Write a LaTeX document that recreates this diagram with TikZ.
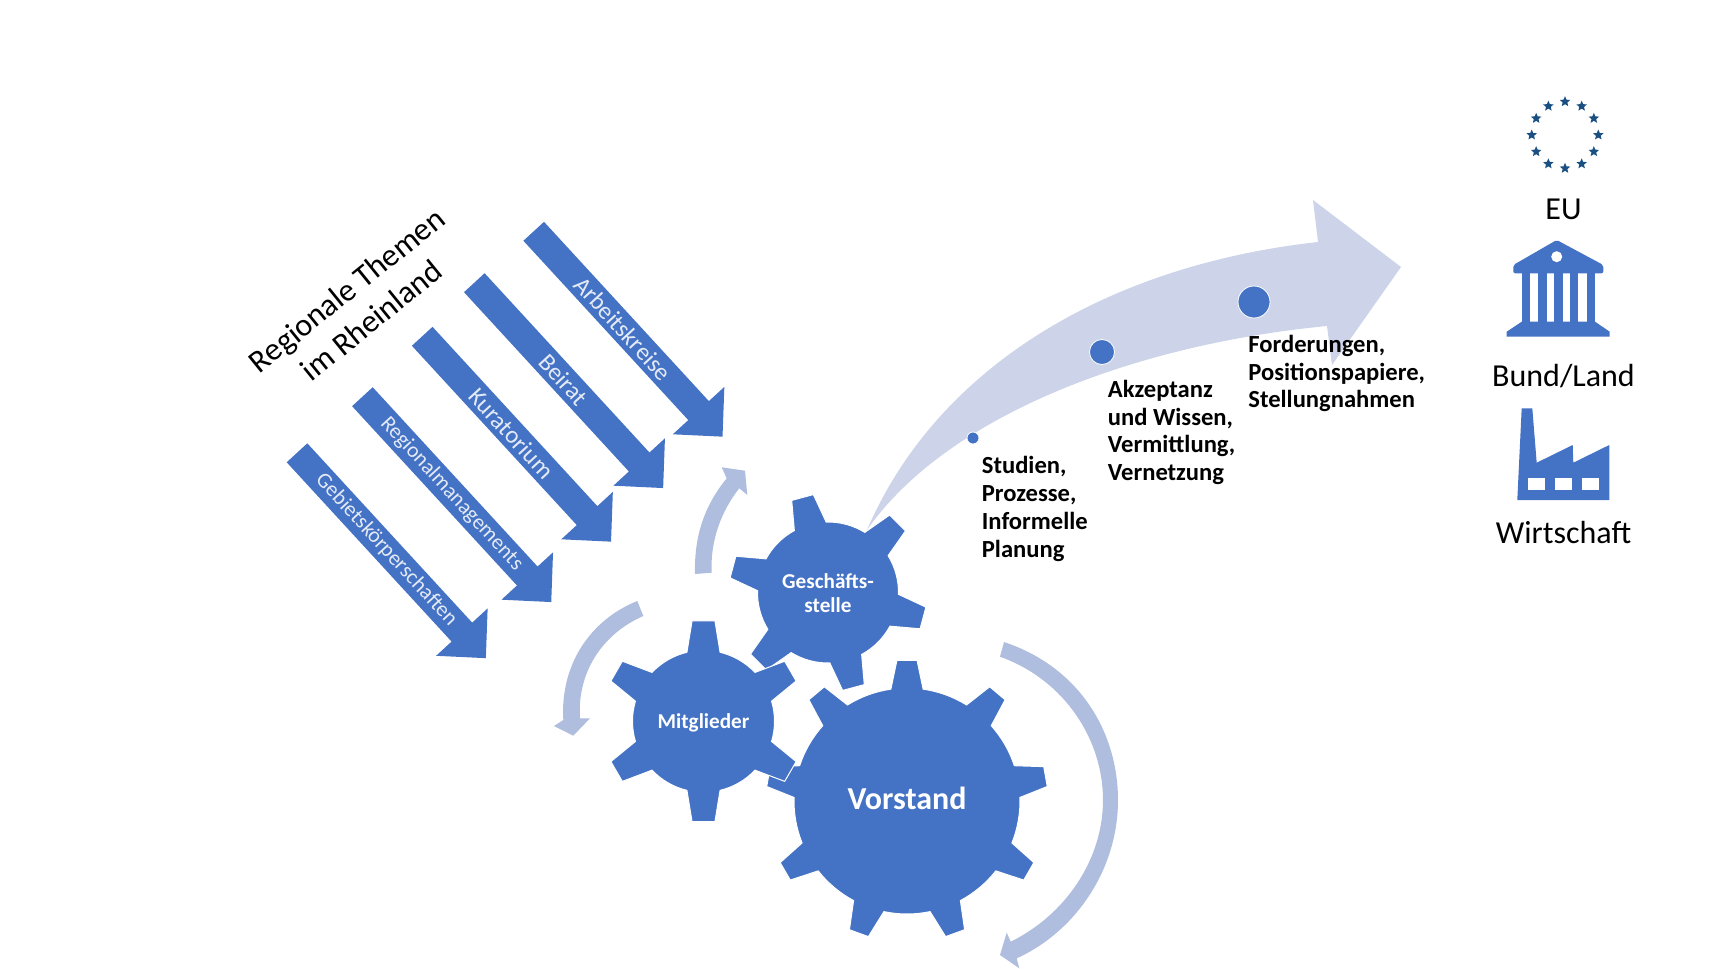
\documentclass[tikz,border=0pt]{standalone}
\usepackage{fontspec}
\setmainfont{Carlito}
\usetikzlibrary{calc}
\usetikzlibrary{shapes.geometric}

\definecolor{gearblue}{HTML}{4472C4}
\definecolor{cyclecol}{HTML}{AFBDDE}
\definecolor{flowcol}{HTML}{CDD4EA}
\definecolor{eucol}{HTML}{1A4F82}

\tikzset{
  themelabel/.style={text=white!85!gearblue,inner sep=0},
  gearlabel/.style={text=white,inner sep=0,align=center,font=\bfseries\fontsize{10.6}{12}\selectfont},
  steplabel/.style={anchor=west,inner sep=0,align=left,font=\bfseries\fontsize{12.3}{13.9}\selectfont},
  iconlabel/.style={inner sep=0,font=\fontsize{16}{19.5}\selectfont},
  eustar/.style={star,star points=5,star point ratio=2.2,fill=eucol,inner sep=0,minimum size=5.5pt},
  stepdot/.style={circle,fill=gearblue,draw=white,line width=.4pt,inner sep=0},
}

% center, first tooth, teeth, radius, tip radius, half angle base, half angle tip
\newcommand{\gearshape}[7]{
  \pgfmathsetmacro\gstep{360/#3}
  \pgfmathtruncatemacro\glast{#3-1}
  \begin{scope}[shift={(#1)}]
    \filldraw[fill=gearblue,draw=white,line width=.5pt] (#2-#6:#4)
      \foreach \i [evaluate=\i as \a using #2+\i*\gstep] in {0,...,\glast} {
        -- (\a-#6:#4) -- (\a-#7:#5) -- (\a+#7:#5) -- (\a+#6:#4)
        arc[start angle=\a+#6,end angle=\a+\gstep-#6,radius=#4]
      } -- cycle;
  \end{scope}
}

\begin{document}
\begin{tikzpicture}[x=.5pt,y=.5pt]

\useasboundingbox (0,0) rectangle (1721,-969);

% title
\node[iconlabel,align=center,rotate=39] (title) at (359,-305) {Regionale Themen\\im Rheinland};

% theme arrows
\foreach \nm/\tx/\ty/\fs/\lbl in {arbeit/533.7/231.3/12.3/Arbeitskreise,beirat/474.3/282.7/12.3/Beirat,
  kurat/422.2/336.3/12.3/Kuratorium,regio/362.4/396.7/10.8/Regionalmanagements,gebiet/297/452.8/10.8/Gebietskörperschaften}{
  \begin{scope}[shift={(\tx,-\ty)},rotate=-47.4]
    \fill[gearblue] (0,14)--(243.6,14)--(243.6,35)--(279,0)--(243.6,-35)--(243.6,-14)--(0,-14)--cycle;
    \node[themelabel,rotate=-47.4,font=\fontsize{\fs}{13}\selectfont] (\nm) at (132,0) {\lbl};
  \end{scope}
}

% big arrow
\coordinate (tail) at (867,-530);
\fill[flowcol] (tail) .. controls (938,-365) and (1110,-265) .. (1318,-242)
  -- (1313,-200) -- (1401,-267) -- (1332,-365) -- (1327,-326)
  .. controls (1130,-345) and (945,-418) .. (tail) -- cycle;

\node[stepdot,minimum size=6pt] (dotA) at (973,-438) {};
\node[stepdot,minimum size=12.5pt] (dotB) at (1102,-352) {};
\node[stepdot,minimum size=16pt] (dotC) at (1254,-302) {};

\node[steplabel] (stepA) at (981.5,-509) {Studien,\\Prozesse,\\Informelle\\Planung};
\node[steplabel] (stepB) at (1107.5,-432.5) {Akzeptanz\\und Wissen,\\Vermittlung,\\Vernetzung};
\node[steplabel] (stepC) at (1248,-373.5) {Forderungen,\\Positionspapiere,\\Stellungnahmen};

% gears
\gearshape{907,-801}{90}{9}{113}{141}{8.2}{4.1}
\gearshape{828,-592.5}{45}{6}{70.5}{99}{13.5}{6.5}
\gearshape{703.5,-721.3}{30}{6}{71}{101}{13.5}{6.5}

\node[gearlabel,font=\fontsize{16}{19}\selectfont\bfseries] (vorstand) at (907,-798.5) {Vorstand};
\node[gearlabel] (gst) at (828,-593) {Geschäfts-\\stelle};
\node[gearlabel] (mitgl) at (703.5,-722.5) {Mitglieder};

% cycle arrows
\fill[cyclecol] (1004,-642) .. controls (1082,-668) and (1118,-735) .. (1118,-800)
  .. controls (1118,-870) and (1075,-932) .. (1016.7,-958.3)
  -- (1019.3,-968.3) -- (1000,-955) -- (1006.7,-932.7) -- (1010.7,-941.7)
  .. controls (1065,-915) and (1103,-860) .. (1103,-800)
  .. controls (1103,-740) and (1065,-680) .. (1000,-656.7) -- cycle;
\fill[cyclecol] (637.3,-601) .. controls (590,-620) and (560,-665) .. (563.3,-720)
  -- (554,-726) -- (573.3,-735.7) -- (590,-718.3) -- (580,-718.3)
  .. controls (577,-675) and (600,-635) .. (643.3,-616) -- cycle;
\fill[cyclecol] (695,-574) .. controls (694,-535) and (705,-505) .. (726.7,-478.3)
  -- (721.7,-467.3) -- (745,-470.7) -- (747.3,-495) -- (739.3,-488.3)
  .. controls (722,-510) and (710,-540) .. (711.7,-572.7) -- cycle;

% EU
\coordinate (eu) at (1565,-135);
\foreach \i in {1,...,12}{
  \node[eustar] (star\i) at ($(eu)+(\i*30:33.3)$) {};
}
\node[iconlabel] (eulabel) at (1563.5,-209) {EU};

% bank
\fill[gearblue,rounded corners=1pt] (1556.7,-240)--(1603.3,-265)--(1603.3,-273.3)--(1513.3,-273.3)--(1513.3,-265)--cycle;
\fill[white] (1556.7,-256.7) circle (5.5);
\foreach \c in {1521.7,1538.3,1554.3,1570,1586.7}{
  \fill[gearblue] (\c,-273)rectangle +(8.3,-49);
}
\fill[gearblue] (1521.7,-321.7)--(1595,-321.7)--(1609.7,-331.7)--(1609.7,-336.7)--(1506.7,-336.7)--(1506.7,-331.7)--cycle;
\node[iconlabel] (bund) at (1563.5,-376) {Bund/Land};

% factory
\fill[gearblue] (1521.7,-408.3)--(1532.3,-408.3)--(1536.7,-462.7)--(1572.7,-445)--(1573.3,-462.7)--(1609.3,-445)--(1609.3,-500)--(1517.3,-500)--cycle;
\foreach \c in {1527.7,1555,1581.7}{
  \fill[white] (\c,-478.3)rectangle +(17.3,-11.7);
}
\node[iconlabel] (wirt) at (1563.5,-532.7) {Wirtschaft};

\end{tikzpicture}
\end{document}
